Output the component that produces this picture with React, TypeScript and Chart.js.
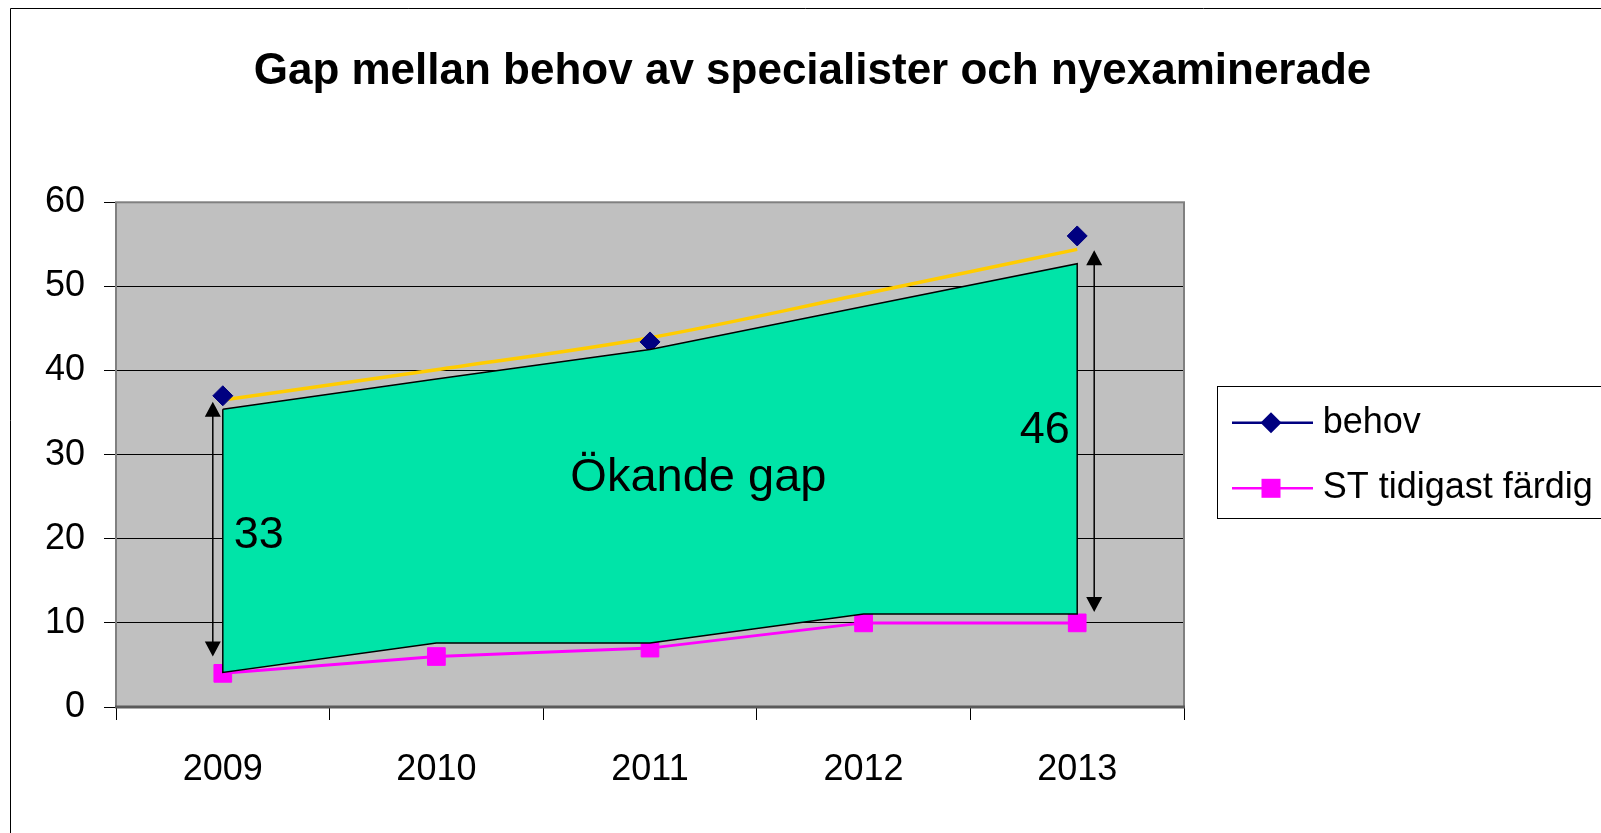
import React, { useEffect, useRef } from 'react';
import { Chart, registerables } from 'chart.js';

Chart.register(...registerables);

const FONT = "'Liberation Sans', Arial, sans-serif";

const titleText = 'Gap mellan behov av specialister och nyexaminerade';
const years = ['2009', '2010', '2011', '2012', '2013'];
const yTicks = [0, 10, 20, 30, 40, 50, 60];
const behov: (number | null)[] = [37, null, 43.4, null, 56];
const stTidigast = [4, 6, 7, 10, 10];
const behovTrend = [36.5, 40.1, 43.9, 49.1, 54.4];
const gapTop = [35.4, 39.0, 42.5, 47.6, 52.7];
const gapBottom = [4.1, 7.6, 7.6, 11.05, 11.05];
const gapLabels = ['33', '46'];
const gapLabelValues = [20.4, 32.9];
const gapText = 'Ökande gap';
const gapTextValue = 27.2;
const arrowSpans = [
  [36.3, 6.0],
  [54.3, 11.3],
];

const polygonPoints = [
  ...years.map((y, i) => ({ x: y, y: gapTop[i] })),
  ...years
    .map((y, i) => ({ x: y, y: gapBottom[i] }))
    .reverse(),
  { x: years[0], y: gapTop[0] },
];

const framePlugin = {
  id: 'frame',
  beforeDraw(chart: any) {
    const { ctx, chartArea } = chart;
    ctx.save();
    ctx.fillStyle = '#fff';
    ctx.fillRect(0, 0, chart.width, chart.height);
    ctx.strokeStyle = '#000';
    ctx.lineWidth = 1;
    ctx.beginPath();
    ctx.moveTo(10.5, chart.height);
    ctx.lineTo(10.5, 8.5);
    ctx.lineTo(chart.width, 8.5);
    ctx.stroke();
    ctx.fillStyle = '#C0C0C0';
    ctx.fillRect(chartArea.left, chartArea.top, chartArea.right - chartArea.left, chartArea.bottom - chartArea.top);
    ctx.restore();
  },
  beforeDatasetsDraw(chart: any) {
    const { ctx, chartArea } = chart;
    ctx.save();
    ctx.strokeStyle = '#808080';
    ctx.lineWidth = 2;
    ctx.strokeRect(chartArea.left, chartArea.top, chartArea.right - chartArea.left, chartArea.bottom - chartArea.top);
    ctx.strokeStyle = '#5a5a5a';
    ctx.lineWidth = 3;
    ctx.beginPath();
    ctx.moveTo(chartArea.left - 1, chartArea.bottom);
    ctx.lineTo(chartArea.right + 1, chartArea.bottom);
    ctx.stroke();
    ctx.restore();
  },
};

function drawArrow(ctx: CanvasRenderingContext2D, x: number, yTop: number, yBot: number) {
  const hw = 8;
  const hh = 15;
  ctx.strokeStyle = '#000';
  ctx.fillStyle = '#000';
  ctx.lineWidth = 1.5;
  ctx.beginPath();
  ctx.moveTo(x, yTop + hh - 1);
  ctx.lineTo(x, yBot - hh + 1);
  ctx.stroke();
  ctx.beginPath();
  ctx.moveTo(x, yTop);
  ctx.lineTo(x - hw, yTop + hh);
  ctx.lineTo(x + hw, yTop + hh);
  ctx.closePath();
  ctx.fill();
  ctx.beginPath();
  ctx.moveTo(x, yBot);
  ctx.lineTo(x - hw, yBot - hh);
  ctx.lineTo(x + hw, yBot - hh);
  ctx.closePath();
  ctx.fill();
}

const annotationPlugin = {
  id: 'annotations',
  afterDatasetsDraw(chart: any) {
    const { ctx } = chart;
    const xs = chart.scales.x;
    const ys = chart.scales.y;
    ctx.save();
    const xLeft = xs.getPixelForValue(0) - 10;
    const xRight = xs.getPixelForValue(years.length - 1) + 17;
    drawArrow(ctx, xLeft, ys.getPixelForValue(arrowSpans[0][0]), ys.getPixelForValue(arrowSpans[0][1]));
    drawArrow(ctx, xRight, ys.getPixelForValue(arrowSpans[1][0]), ys.getPixelForValue(arrowSpans[1][1]));

    ctx.fillStyle = '#000';
    ctx.textAlign = 'center';
    ctx.textBaseline = 'middle';
    ctx.font = `45px ${FONT}`;
    ctx.fillText(gapLabels[0], xs.getPixelForValue(0) + 36, ys.getPixelForValue(gapLabelValues[0]));
    ctx.fillText(gapLabels[1], xs.getPixelForValue(years.length - 1) - 32.5, ys.getPixelForValue(gapLabelValues[1]));
    ctx.font = `47px ${FONT}`;
    ctx.fillText(gapText, xs.getPixelForValue(2) + 48.4, ys.getPixelForValue(gapTextValue));
    ctx.restore();
  },
};

const legendPlugin = {
  id: 'boxLegend',
  afterDraw(chart: any) {
    const { ctx } = chart;
    const sets = chart.data.datasets;
    const entries = [sets.find((d: any) => d.label === 'behov'), sets.find((d: any) => d.label === 'ST tidigast färdig')];
    ctx.save();
    ctx.fillStyle = '#fff';
    ctx.fillRect(1217.5, 386.5, 500, 132);
    ctx.strokeStyle = '#000';
    ctx.lineWidth = 1;
    ctx.strokeRect(1217.5, 386.5, 500, 132);
    const rowsY = [422.7, 488.3];
    const baselines = [433.3, 498.3];
    entries.forEach((ds: any, i: number) => {
      const y = rowsY[i];
      ctx.strokeStyle = ds.borderColor;
      ctx.lineWidth = 2.5;
      ctx.beginPath();
      ctx.moveTo(1232, y);
      ctx.lineTo(1313, y);
      ctx.stroke();
      ctx.fillStyle = ds.backgroundColor;
      const cx = 1271;
      if (ds.pointStyle === 'rectRot') {
        const r = 10.5;
        ctx.beginPath();
        ctx.moveTo(cx, y - r);
        ctx.lineTo(cx + r, y);
        ctx.lineTo(cx, y + r);
        ctx.lineTo(cx - r, y);
        ctx.closePath();
        ctx.fill();
      } else {
        ctx.fillRect(cx - 9.5, y - 9.5, 19, 19);
      }
      ctx.fillStyle = '#000';
      ctx.textAlign = 'left';
      ctx.textBaseline = 'alphabetic';
      ctx.font = `36px ${FONT}`;
      ctx.fillText(ds.label, 1322.7, baselines[i]);
    });
    ctx.restore();
  },
};

export default function App() {
  const ref = useRef<HTMLCanvasElement | null>(null);

  useEffect(() => {
    const canvas = ref.current;
    if (!canvas) return;
    const chart = new Chart(canvas, {
      type: 'line',
      data: {
        labels: years,
        datasets: [
          {
            label: 'gap',
            data: polygonPoints as any,
            fill: 'shape' as any,
            backgroundColor: '#00E4A8',
            borderColor: '#000000',
            borderWidth: 1.5,
            pointRadius: 0,
            tension: 0,
            order: 0,
          },
          {
            label: 'ST tidigast färdig',
            data: stTidigast,
            fill: false,
            borderColor: '#FF00FF',
            backgroundColor: '#FF00FF',
            borderWidth: 3,
            pointStyle: 'rect',
            pointRadius: 12.5,
            pointBorderWidth: 1,
            tension: 0,
            order: 1,
          },
          {
            label: 'behov',
            data: behov,
            fill: false,
            showLine: false,
            borderColor: '#000080',
            backgroundColor: '#000080',
            pointStyle: 'rectRot',
            pointRadius: 10,
            pointBorderWidth: 1,
            order: 2,
          },
          {
            label: 'trend',
            data: behovTrend,
            fill: false,
            borderColor: '#FFCC00',
            borderWidth: 3.5,
            pointRadius: 0,
            cubicInterpolationMode: 'monotone',
            order: 3,
          },
        ],
      },
      options: {
        responsive: false,
        animation: false,
        devicePixelRatio: 1,
        events: [],
        layout: { padding: { left: 24, right: 0, top: 0, bottom: 0 } },
        plugins: {
          legend: { display: false },
          tooltip: { enabled: false },
          title: {
            display: true,
            text: titleText,
            color: '#000',
            font: { family: FONT, size: 44, weight: 'bold', lineHeight: 1.2 },
            padding: { top: 45, bottom: 104.5 },
          },
        },
        scales: {
          x: {
            offset: true,
            grid: {
              display: true,
              drawOnChartArea: false,
              drawTicks: true,
              tickLength: 13,
              offset: true,
              color: '#000',
              lineWidth: 1,
            },
            border: { display: false },
            ticks: { color: '#000', font: { family: FONT, size: 36 }, padding: 28, maxRotation: 0, autoSkip: false },
            afterFit: (s: any) => {
              s.height = 126;
            },
          },
          y: {
            min: 0,
            max: 60,
            grid: { color: '#000', lineWidth: 1, tickLength: 12, drawTicks: true },
            border: { display: false },
            ticks: { stepSize: 10, color: '#000', font: { family: FONT, size: 36 }, padding: 19 },
            afterBuildTicks: (s: any) => {
              s.ticks = yTicks.map((v) => ({ value: v }));
            },
            afterFit: (s: any) => {
              s.width = 92;
            },
          },
          yR: {
            type: 'linear',
            axis: 'y',
            position: 'right',
            display: true,
            grid: { display: false },
            border: { display: false },
            ticks: { display: false },
            afterFit: (s: any) => {
              s.width = 417;
            },
          },
        },
      } as any,
      plugins: [framePlugin, annotationPlugin, legendPlugin],
    });
    return () => chart.destroy();
  }, []);

  return (
    <div style={{ position: 'fixed', left: 0, top: 0, width: 1601, height: 833, background: '#fff', overflow: 'hidden' }}>
      <canvas ref={ref} width={1601} height={833} style={{ display: 'block', width: 1601, height: 833 }} />
    </div>
  );
}
